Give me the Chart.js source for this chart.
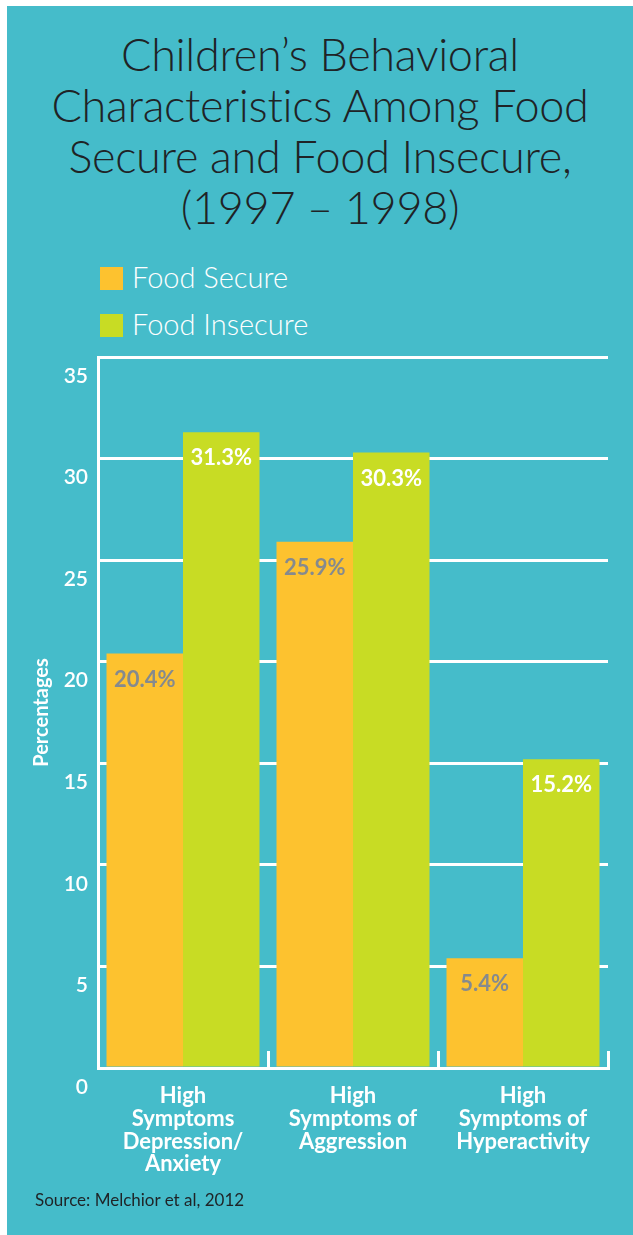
<!DOCTYPE html>
<html>
<head>
<meta charset="utf-8">
<script src="https://cdn.jsdelivr.net/npm/chart.js@4.4.1/dist/chart.umd.min.js"></script>
<style>
  html, body { margin: 0; padding: 0; background: #fff; }
  body { width: 633px; height: 1235px; position: relative; overflow: hidden; font-family: Lato, "Open Sans", sans-serif; }
  #panel { position: absolute; left: 7px; top: 6px; right: 0; bottom: 0; background: #45bcca; }
  #title { position: absolute; left: 7px; width: 626px; top: 29px; text-align: center; color: #1f2326;
           font-size: 45px; font-weight: 300; line-height: 51px; letter-spacing: -0.3px; }
  .legend { position: absolute; left: 100px; color: #fff; font-size: 29px; font-weight: 300; line-height: 30px; }
  .legend span { display: inline-block; width: 23px; height: 23px; vertical-align: -2px; margin-right: 9px; }
  #source { position: absolute; left: 35px; top: 1189px; font-size: 17px; color: #1f2326; }
  #chart { position: absolute; left: 0; top: 330px; }
</style>
</head>
<body>
<div id="panel"></div>
<div id="title">Children’s Behavioral<br>Characteristics Among Food<br>Secure and Food Insecure,<br>(1997 – 1998)</div>
<div class="legend" style="top:262px"><span style="background:#fdc22f"></span>Food Secure</div>
<div class="legend" style="top:309px"><span style="background:#c8dc24"></span>Food Insecure</div>
<canvas id="chart" width="633" height="870"></canvas>
<div id="source">Source: Melchior et al, 2012</div>

<script>
// Data
const categories = [
    ['High', 'Symptoms', 'Depression/', 'Anxiety'],
    ['High', 'Symptoms of', 'Aggression'],
    ['High', 'Symptoms of', 'Hyperactivity']
];
const foodSecure = [20.4, 25.9, 5.4];
const foodInsecure = [31.3, 30.3, 15.2];

// Value labels inside the bars
const barLabels = {
    id: 'barLabels',
    afterDatasetsDraw(chart) {
        const ctx = chart.ctx;
        ctx.save();
        ctx.font = "bold 22px Lato, 'Open Sans', sans-serif";
        ctx.textAlign = 'center';
        ctx.textBaseline = 'middle';
        chart.data.datasets.forEach((ds, i) => {
            ctx.fillStyle = i === 0 ? '#858a8e' : '#ffffff';
            chart.getDatasetMeta(i).data.forEach((bar, j) => {
                ctx.fillText(ds.data[j].toFixed(1) + '%', bar.x, bar.y + 26);
            });
        });
        ctx.restore();
    }
};

const ctx = document.getElementById('chart').getContext('2d');

new Chart(ctx, {
    type: 'bar',
    data: {
        labels: categories,
        datasets: [{
            label: 'Food Secure',
            data: foodSecure,
            backgroundColor: '#fdc22f'
        }, {
            label: 'Food Insecure',
            data: foodInsecure,
            backgroundColor: '#c8dc24'
        }]
    },
    options: {
        responsive: false,
        animation: false,
        categoryPercentage: 0.9,
        barPercentage: 1.0,
        layout: { padding: { top: 27, right: 25, left: 0, bottom: 0 } },
        plugins: {
            legend: { display: false },
            tooltip: { enabled: false }
        },
        scales: {
            x: {
                afterFit(scale) { scale.height = 132; },
                grid: {
                    color: '#ffffff',
                    lineWidth: 3,
                    drawOnChartArea: false,
                    drawTicks: true,
                    tickLength: -17
                },
                border: { color: '#ffffff', width: 3 },
                ticks: {
                    color: '#ffffff',
                    padding: 34,
                    font: { family: 'Lato', size: 22, weight: 'bold', lineHeight: 1.03 }
                }
            },
            y: {
                min: 0,
                max: 35,
                afterFit(scale) { scale.width = 98; },
                grid: { color: '#ffffff', lineWidth: 3, drawTicks: false },
                border: { color: '#ffffff', width: 3 },
                ticks: {
                    stepSize: 5,
                    color: '#ffffff',
                    padding: 10,
                    labelOffset: 19,
                    font: { family: 'Lato', size: 21, weight: '600' }
                },
                title: {
                    display: true,
                    text: 'Percentages',
                    color: '#ffffff',
                    padding: { top: 30, bottom: 0 },
                    font: { family: 'Lato', size: 20, weight: 'bold' }
                }
            }
        }
    },
    plugins: [barLabels]
});
</script>
</body>
</html>
